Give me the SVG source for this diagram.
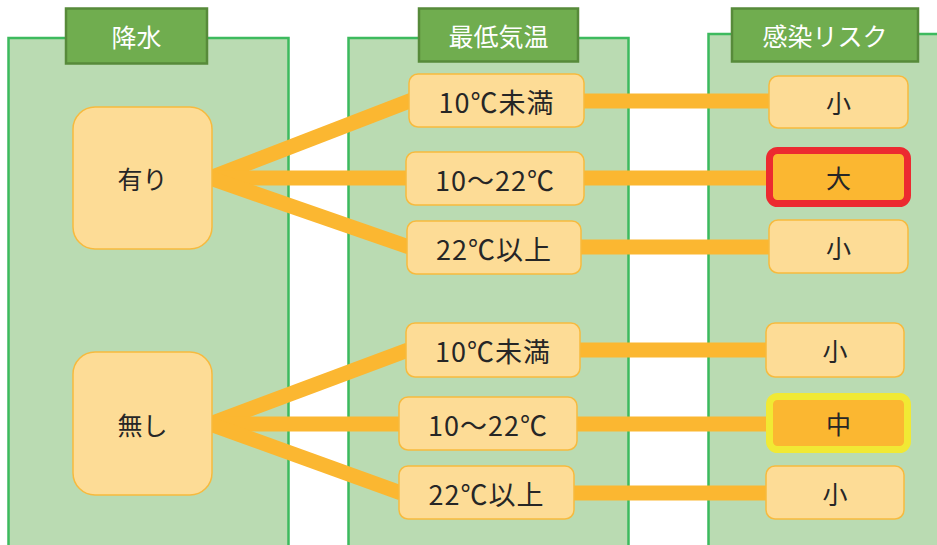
<svg xmlns="http://www.w3.org/2000/svg" width="937" height="545" viewBox="0 0 937 545">
<style>
.panel{fill:#BADBB2;stroke:#3DBA5E;stroke-width:2.5}
.hdr{fill:#70AD4F;stroke:#578A3A;stroke-width:2.5}
.hdrt{fill:#FFFFFF;font-family:"Noto Sans CJK JP","Noto Sans",sans-serif;font-size:25px;text-anchor:middle;dominant-baseline:central}
.box{fill:#FDDC96;stroke:#F7BA3E;stroke-width:1.5}
.t{fill:#262626;font-family:"Noto Sans CJK JP","Noto Sans",sans-serif;font-size:25px;text-anchor:middle;dominant-baseline:central}
.tm{font-size:27px;letter-spacing:1px}
.con line{stroke:#FBB731;stroke-width:15;stroke-linecap:butt}
</style>
<rect width="937" height="545" fill="#FFFFFF"/>
<g id="panel-rain">
<rect class="panel" x="8.5" y="38" width="280" height="520"/>
<rect class="hdr" x="66" y="8.5" width="141" height="55"/>
<text class="hdrt" x="136.5" y="36">降水</text>
</g>
<g id="panel-temp">
<rect class="panel" x="348.5" y="38" width="280" height="520"/>
<rect class="hdr" x="419" y="8.5" width="159" height="53"/>
<text class="hdrt" x="498.5" y="35">最低気温</text>
</g>
<g id="panel-risk">
<rect class="panel" x="708.5" y="34" width="240" height="520"/>
<rect class="hdr" x="732" y="8.5" width="186" height="53"/>
<text class="hdrt" x="825" y="35">感染リスク</text>
</g>
<g id="connectors" class="con">
<line x1="210" y1="178" x2="412" y2="100"/>
<line x1="210" y1="178" x2="408" y2="178"/>
<line x1="210" y1="178" x2="409" y2="247"/>
<line x1="584" y1="101" x2="771" y2="101"/>
<line x1="584" y1="178" x2="771" y2="178"/>
<line x1="581" y1="247" x2="771" y2="247"/>
<line x1="210" y1="424" x2="408" y2="350"/>
<line x1="210" y1="424" x2="401" y2="424"/>
<line x1="210" y1="424" x2="401" y2="493"/>
<line x1="580" y1="350" x2="768" y2="350"/>
<line x1="577" y1="424" x2="768" y2="424"/>
<line x1="574" y1="493" x2="768" y2="493"/>
</g>
<g id="n-ari"><rect class="box" x="73" y="107" width="139" height="142" rx="22"/><text class="t" x="142.5" y="178">有り</text></g>
<g id="n-nashi"><rect class="box" x="73" y="352" width="139" height="143" rx="22"/><text class="t" x="142.5" y="424">無し</text></g>
<g id="n-t1"><rect class="box" x="409" y="74" width="175" height="53" rx="9"/><text class="t tm" x="496.5" y="101">10℃未満</text></g>
<g id="n-t2"><rect class="box" x="406" y="152" width="178" height="53" rx="9"/><text class="t tm" x="495" y="179">10～22℃</text></g>
<g id="n-t3"><rect class="box" x="407" y="221" width="174" height="53" rx="9"/><text class="t tm" x="494" y="248">22℃以上</text></g>
<g id="n-t4"><rect class="box" x="406" y="323" width="174" height="54" rx="9"/><text class="t tm" x="493" y="350">10℃未満</text></g>
<g id="n-t5"><rect class="box" x="399" y="397" width="178" height="53" rx="9"/><text class="t tm" x="488" y="424">10～22℃</text></g>
<g id="n-t6"><rect class="box" x="399" y="466" width="175" height="53" rx="9"/><text class="t tm" x="486.5" y="493">22℃以上</text></g>
<g id="n-r1"><rect class="box" x="769" y="76" width="139" height="52" rx="9"/><text class="t" x="838.5" y="102">小</text></g>
<g id="n-r2"><rect x="769.5" y="150.5" width="138" height="53" rx="8" fill="#FBB731" stroke="#EC2A30" stroke-width="7"/><text class="t" x="838.5" y="177">大</text></g>
<g id="n-r3"><rect class="box" x="769" y="220" width="139" height="53" rx="9"/><text class="t" x="838.5" y="247">小</text></g>
<g id="n-r4"><rect class="box" x="766" y="323" width="138" height="54" rx="9"/><text class="t" x="835" y="350">小</text></g>
<g id="n-r5"><rect x="769.5" y="396.5" width="138" height="53" rx="8" fill="#FBB731" stroke="#F1E934" stroke-width="7"/><text class="t" x="838.5" y="423">中</text></g>
<g id="n-r6"><rect class="box" x="766" y="466" width="138" height="53" rx="9"/><text class="t" x="835" y="493">小</text></g>
</svg>
